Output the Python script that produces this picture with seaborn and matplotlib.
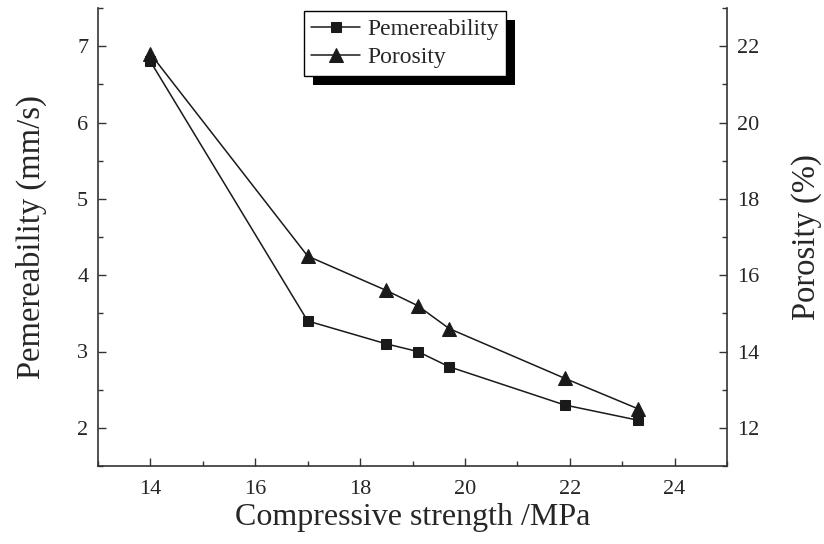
import matplotlib
matplotlib.use("Agg")
import matplotlib.pyplot as plt
import seaborn as sns
import pandas as pd
from matplotlib.ticker import MultipleLocator
from matplotlib.patches import Rectangle

strength = [14, 17, 18.5, 19.1, 19.7, 21.9, 23.3]
permeability = [6.8, 3.4, 3.1, 3.0, 2.8, 2.3, 2.1]
porosity = [21.8, 16.5, 15.6, 15.2, 14.6, 13.3, 12.5]

sns.set_style("ticks")
plt.rcParams["font.family"] = ["Liberation Serif", "DejaVu Serif"]

df = pd.DataFrame({"strength": strength, "perm": permeability, "poro": porosity})

fig = plt.figure(figsize=(8.24, 5.44), dpi=100)
ax = fig.add_axes([98 / 824, 78 / 544, (727 - 98) / 824, (466 - 8) / 544])
ax2 = ax.twinx()

col = "#1a1a1a"
sns.lineplot(data=df, x="strength", y="perm", ax=ax, color=col, marker="s",
             markersize=7.5, linewidth=1.1, markeredgecolor=col, label="Pemereability",
             legend=False)
sns.lineplot(data=df, x="strength", y="poro", ax=ax2, color=col, marker="^",
             markersize=9.5, linewidth=1.1, markeredgecolor=col, label="Porosity",
             legend=False)

ax.set_xlim(13, 25)
ax.set_ylim(1.5, 7.5)
ax2.set_ylim(11, 23)

ax.xaxis.set_major_locator(MultipleLocator(2))
ax.xaxis.set_minor_locator(MultipleLocator(1))
ax.yaxis.set_major_locator(MultipleLocator(1))
ax.yaxis.set_minor_locator(MultipleLocator(0.5))
ax2.yaxis.set_major_locator(MultipleLocator(2))
ax2.yaxis.set_minor_locator(MultipleLocator(1))

for a in (ax, ax2):
    a.tick_params(which="major", direction="in", length=6, width=1.0, color="#333333",
                  labelsize=16, pad=7)
    a.tick_params(which="minor", direction="in", length=3.5, width=1.0, color="#333333")
    for s in a.spines.values():
        s.set_linewidth(1.2)
        s.set_color("#333333")
    a.spines["top"].set_visible(False)
ax2.spines["left"].set_visible(False)
ax2.spines["bottom"].set_visible(False)
ax.spines["right"].set_visible(False)
ax.tick_params(axis="x", which="both", top=False, pad=10)

ax.set_xlabel("Compressive strength /MPa", fontsize=23, labelpad=3)
ax.set_ylabel("Pemereability (mm/s)", fontsize=23.5, labelpad=22)
ax2.set_ylabel("Porosity (%)", fontsize=23.5, labelpad=23)

h1, l1 = ax.get_legend_handles_labels()
h2, l2 = ax2.get_legend_handles_labels()
leg = ax2.legend(h1 + h2, l1 + l2, loc="upper left", bbox_to_anchor=(0.327, 0.993),
                 fontsize=17, frameon=True, fancybox=False, framealpha=1,
                 edgecolor="black", handlelength=2.1, handletextpad=0.3,
                 borderpad=0.3, labelspacing=0.3, borderaxespad=0)
leg.get_frame().set_linewidth(1.0)
leg.set_zorder(10)

fig.canvas.draw()
bb = leg.get_window_extent().transformed(fig.transFigure.inverted())
off_x, off_y = 9 / 824, 9 / 544
sh = Rectangle((bb.x0 + off_x, bb.y0 - off_y), bb.width, bb.height,
               transform=fig.transFigure, facecolor="black", edgecolor="none",
               zorder=9, clip_on=False)
ax2.add_artist(sh)

fig.savefig("out.png", dpi=100)
